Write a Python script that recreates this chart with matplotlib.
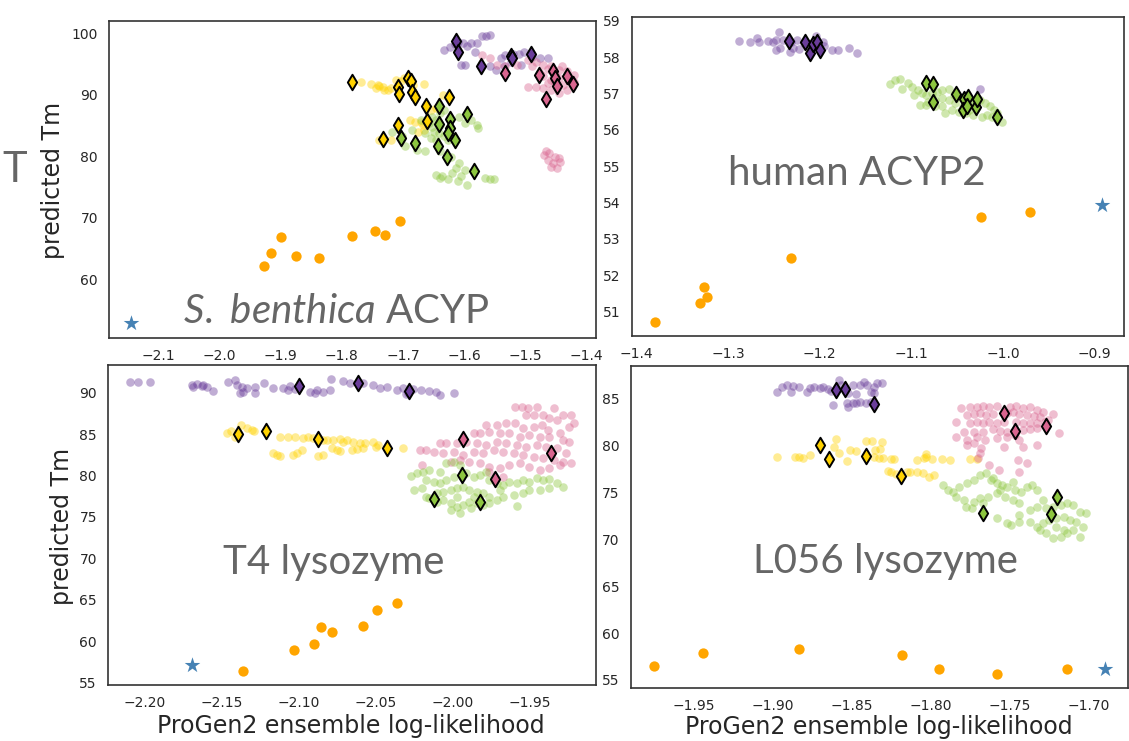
import numpy as np
import matplotlib
matplotlib.use("Agg")
import matplotlib.pyplot as plt
import seaborn as sns

sns.set_style("white")
plt.rcParams['font.family'] = ['DejaVu Sans']
plt.rcParams['mathtext.fontset'] = 'custom'
plt.rcParams['mathtext.it'] = 'Lato:italic'
plt.rcParams['mathtext.rm'] = 'Lato'

PURPLE = "#6a3d9a"
PINK = "#d9658f"
YELLOW = "#ffd200"
GREEN = "#8dc63f"
ORANGE = "#ffa500"
STAR = "#4682b4"

# ---------------- S. benthica ACYP ----------------
sb_purple = [(-1.633, 97.3), (-1.624, 97.8), (-1.611, 98.6), (-1.602, 98.5), (-1.589, 98.4),
             (-1.580, 98.4), (-1.583, 97.0), (-1.605, 94.9), (-1.599, 94.9), (-1.564, 99.5),
             (-1.558, 99.7), (-1.571, 99.6), (-1.558, 94.6), (-1.549, 94.0), (-1.533, 96.5),
             (-1.521, 96.7), (-1.511, 96.7), (-1.502, 96.9), (-1.508, 94.9), (-1.489, 96.2),
             (-1.477, 95.9), (-1.464, 95.9), (-1.536, 94.6), (-1.523, 95.4), (-1.615, 98.2),
             (-1.595, 98.0), (-1.540, 96.0)]
sb_purple_top = [(-1.614, 98.8), (-1.610, 96.9), (-1.572, 94.6), (-1.524, 96.3), (-1.522, 95.9),
                 (-1.491, 96.6)]
sb_pink = [(-1.571, 96.5), (-1.558, 95.9), (-1.546, 94.9), (-1.533, 94.6), (-1.514, 94.9),
           (-1.496, 95.7), (-1.483, 95.4), (-1.471, 94.9), (-1.458, 94.6), (-1.446, 94.0),
           (-1.433, 93.8), (-1.421, 93.2), (-1.471, 93.0), (-1.458, 92.4), (-1.446, 92.7),
           (-1.433, 93.0), (-1.483, 91.3), (-1.471, 91.1), (-1.458, 90.8), (-1.446, 90.2),
           (-1.433, 90.8), (-1.421, 92.1), (-1.489, 94.6), (-1.477, 93.5), (-1.452, 91.9),
           (-1.439, 91.6), (-1.427, 92.4), (-1.464, 91.9), (-1.496, 91.3), (-1.464, 94.2),
           (-1.452, 93.4), (-1.440, 94.6), (-1.470, 80.2), (-1.461, 80.5), (-1.452, 79.9),
           (-1.464, 79.4), (-1.455, 78.9), (-1.446, 79.7), (-1.443, 79.1), (-1.458, 78.3),
           (-1.449, 78.0), (-1.467, 80.8)]
sb_pink_top = [(-1.534, 93.5), (-1.478, 93.2), (-1.466, 89.3), (-1.455, 93.8), (-1.452, 92.7),
               (-1.449, 91.4), (-1.433, 93.0), (-1.422, 91.8)]
sb_yellow = [(-1.769, 92.0), (-1.752, 91.8), (-1.744, 91.1), (-1.739, 91.4), (-1.733, 91.2),
             (-1.725, 90.8), (-1.720, 91.1), (-1.711, 92.4), (-1.703, 92.3), (-1.698, 92.7),
             (-1.684, 91.6), (-1.665, 91.8), (-1.731, 90.8), (-1.741, 91.6), (-1.688, 85.9),
             (-1.681, 85.6), (-1.670, 85.6), (-1.676, 84.0), (-1.665, 84.3), (-1.720, 82.6),
             (-1.739, 82.6), (-1.668, 85.1), (-1.646, 87.8), (-1.654, 87.5), (-1.634, 90.0)]
sb_yellow_top = [(-1.784, 92.1), (-1.708, 91.3), (-1.706, 90.1), (-1.692, 92.7), (-1.687, 92.3),
                 (-1.686, 90.5), (-1.680, 89.6), (-1.625, 89.6), (-1.662, 88.2), (-1.661, 85.8),
                 (-1.709, 85.1), (-1.733, 82.8)]
sb_green = [(-1.652, 86.4), (-1.639, 87.0), (-1.658, 85.4), (-1.649, 84.0), (-1.633, 87.5),
            (-1.608, 86.4), (-1.599, 85.4), (-1.580, 85.1), (-1.577, 84.6), (-1.589, 85.9),
            (-1.718, 84.0), (-1.702, 83.2), (-1.696, 81.6), (-1.677, 81.0), (-1.664, 80.8),
            (-1.639, 80.8), (-1.621, 79.9), (-1.608, 78.9), (-1.614, 78.0), (-1.599, 77.8),
            (-1.646, 77.0), (-1.636, 76.7), (-1.627, 76.2), (-1.611, 75.9), (-1.596, 75.3),
            (-1.567, 76.4), (-1.558, 76.2), (-1.552, 76.2), (-1.664, 83.7), (-1.655, 82.9),
            (-1.646, 85.9), (-1.652, 84.8), (-1.639, 85.1), (-1.642, 83.7), (-1.633, 83.2),
            (-1.627, 82.6), (-1.646, 82.6), (-1.670, 85.9), (-1.686, 84.3), (-1.640, 76.4),
            (-1.620, 77.2), (-1.605, 76.8)]
sb_green_top = [(-1.641, 88.1), (-1.595, 86.9), (-1.642, 85.3), (-1.623, 86.0), (-1.623, 84.6),
                (-1.627, 83.8), (-1.615, 82.6), (-1.703, 83.0), (-1.680, 82.1), (-1.643, 81.7),
                (-1.629, 79.8), (-1.584, 77.6)]
sb_orange = [(-1.927, 62.2), (-1.915, 64.3), (-1.899, 66.9), (-1.874, 63.8), (-1.838, 63.5),
             (-1.783, 67.0), (-1.746, 67.8), (-1.729, 67.2), (-1.705, 69.4)]
sb_star = (-2.144, 52.8)

# ---------------- human ACYP2 ----------------
ha_purple = [(-1.288, 58.44), (-1.276, 58.41), (-1.269, 58.52), (-1.266, 58.40), (-1.257, 58.44),
             (-1.248, 58.47), (-1.245, 58.68), (-1.248, 58.19), (-1.244, 58.24), (-1.233, 58.15),
             (-1.232, 58.42), (-1.225, 58.47), (-1.223, 58.21), (-1.217, 58.38), (-1.204, 58.58),
             (-1.197, 58.42), (-1.195, 58.29), (-1.187, 58.20), (-1.180, 58.20), (-1.168, 58.26),
             (-1.159, 58.10), (-1.240, 58.47), (-1.251, 58.42), (-1.229, 58.24), (-1.025, 57.11)]
ha_purple_top = [(-1.234, 58.44), (-1.216, 58.42), (-1.211, 58.12), (-1.207, 58.35),
                 (-1.203, 58.40), (-1.200, 58.18)]
ha_green = [(-1.123, 57.26), (-1.118, 57.37), (-1.112, 57.39), (-1.110, 57.11), (-1.104, 57.28),
            (-1.099, 57.17), (-1.093, 57.10), (-1.089, 57.00), (-1.084, 56.96), (-1.078, 57.02),
            (-1.072, 57.05), (-1.067, 57.08), (-1.059, 57.11), (-1.054, 56.96), (-1.048, 56.91),
            (-1.042, 56.82), (-1.037, 56.77), (-1.031, 56.73), (-1.025, 56.82), (-1.020, 56.73),
            (-1.014, 56.66), (-1.010, 56.55), (-1.007, 56.45), (-1.001, 56.20), (-1.091, 56.68),
            (-1.084, 56.68), (-1.074, 56.64), (-1.067, 56.66), (-1.056, 56.55), (-1.048, 56.50),
            (-1.040, 56.45), (-1.033, 56.41), (-1.023, 56.36), (-1.018, 56.41), (-1.012, 56.36),
            (-1.059, 56.82), (-1.052, 56.73), (-1.074, 56.82), (-1.082, 56.77), (-1.067, 56.87),
            (-1.044, 56.64), (-1.029, 56.59), (-1.097, 56.96), (-1.063, 56.45), (-1.037, 56.55)]
ha_green_top = [(-1.084, 57.28), (-1.077, 57.26), (-1.076, 56.75), (-1.051, 56.98),
                (-1.043, 56.85), (-1.038, 56.91), (-1.044, 56.55), (-1.039, 56.66),
                (-1.030, 56.62), (-1.028, 56.85), (-1.007, 56.34)]
ha_orange = [(-1.380, 50.72), (-1.331, 51.25), (-1.326, 51.69), (-1.323, 51.39), (-1.231, 52.47),
             (-1.024, 53.59), (-0.971, 53.73)]
ha_star = (-0.892, 53.93)

# ---------------- T4 lysozyme ----------------
t4_purple = [(-2.2093, 91.33), (-2.2039, 91.33), (-2.1963, 91.33), (-2.1692, 90.93), (-2.1660, 91.05),
             (-2.1627, 90.81), (-2.1595, 90.72), (-2.1552, 90.24), (-2.1455, 91.25), (-2.1411, 91.53),
             (-2.1400, 90.93), (-2.1368, 90.72), (-2.1335, 90.53), (-2.1379, 90.00), (-2.1357, 90.12),
             (-2.1281, 90.65), (-2.1281, 90.00), (-2.1223, 91.13), (-2.1162, 90.53), (-2.1097, 90.53),
             (-2.1054, 90.81), (-2.1021, 90.41), (-2.0924, 90.12), (-2.0881, 90.33), (-2.0838, 90.12),
             (-2.0794, 90.33), (-2.0790, 91.62), (-2.0708, 91.45), (-2.0664, 91.13), (-2.0578, 91.21),
             (-2.0513, 90.93), (-2.0470, 90.53), (-2.0426, 90.72), (-2.0361, 90.33), (-2.0318, 90.53),
             (-2.0286, 89.93), (-2.1682, 90.72), (-2.1617, 90.93), (-2.1065, 90.33), (-2.0892, 90.00),
             (-2.0203, 90.37), (-2.0154, 90.21), (-2.0104, 90.08), (-2.0079, 89.68), (-1.9992, 90.00),
             (-2.0303, 89.88), (-2.0253, 90.49)]
t4_purple_top = [(-2.0993, 90.81), (-2.0614, 91.13), (-2.0278, 90.21)]
t4_yellow = [(-2.1465, 85.10), (-2.1439, 85.42), (-2.1411, 84.69), (-2.1374, 86.10), (-2.1335, 85.71),
             (-2.1303, 85.50), (-2.1288, 85.42), (-2.1119, 84.69), (-2.1065, 84.69), (-2.1021, 84.62),
             (-2.0968, 84.50), (-2.0935, 84.69), (-2.0903, 84.50), (-2.0816, 84.29), (-2.0773, 84.29),
             (-2.0729, 84.38), (-2.0686, 84.29), (-2.0643, 84.09), (-2.0599, 83.97), (-2.0567, 83.90),
             (-2.0513, 84.09), (-2.0481, 83.69), (-2.1162, 82.69), (-2.1140, 82.48), (-2.1119, 82.36),
             (-2.1032, 82.48), (-2.1010, 82.69), (-2.0978, 83.09), (-2.0870, 82.36), (-2.0838, 82.48),
             (-2.0783, 83.29), (-2.0751, 83.09), (-2.0729, 83.00), (-2.0653, 83.09), (-2.0621, 83.17),
             (-2.0578, 83.29), (-2.0495, 83.41), (-2.0318, 83.29), (-2.0838, 84.29), (-2.0708, 84.09)]
t4_yellow_top = [(-2.1390, 85.02), (-2.1210, 85.42), (-2.0870, 84.42), (-2.0426, 83.29)]
t4_pink = [(-1.959, 88.24), (-1.955, 88.32), (-1.951, 88.11), (-1.945, 88.24), (-1.934, 88.11),
           (-1.928, 87.31), (-1.923, 87.31), (-1.952, 87.31), (-1.947, 87.31), (-1.941, 87.31),
           (-1.937, 86.91), (-1.932, 86.71), (-1.978, 86.10), (-1.971, 86.10), (-1.965, 86.31),
           (-1.959, 86.31), (-1.954, 85.70), (-1.947, 85.90), (-1.942, 86.10), (-1.938, 85.50),
           (-1.930, 85.10), (-1.924, 85.90), (-1.921, 86.31), (-1.986, 85.10), (-1.982, 85.10),
           (-1.976, 85.30), (-1.969, 85.10), (-1.963, 85.10), (-1.956, 84.70), (-1.950, 84.90),
           (-1.943, 84.70), (-1.937, 84.70), (-1.928, 84.29), (-1.924, 84.09), (-2.008, 83.89),
           (-2.004, 83.89), (-1.997, 83.89), (-1.991, 84.09), (-1.984, 83.89), (-1.978, 83.69),
           (-1.971, 84.09), (-1.965, 83.89), (-1.958, 83.69), (-1.952, 83.49), (-1.945, 83.69),
           (-1.939, 83.49), (-1.932, 83.29), (-1.926, 82.69), (-2.021, 83.09), (-2.017, 83.09),
           (-2.012, 82.89), (-2.006, 82.69), (-1.999, 82.89), (-1.993, 82.49), (-1.986, 82.89),
           (-1.980, 82.69), (-1.973, 83.09), (-1.967, 82.89), (-1.960, 82.69), (-1.954, 82.49),
           (-1.947, 82.28), (-1.941, 82.08), (-1.934, 81.88), (-1.928, 81.68), (-1.923, 81.48),
           (-2.020, 81.28), (-2.001, 81.68), (-1.995, 81.88), (-1.989, 81.68), (-1.982, 81.48),
           (-1.976, 81.08), (-1.969, 80.88), (-1.963, 81.28), (-1.956, 81.48), (-1.950, 81.08),
           (-1.943, 80.68), (-1.937, 80.88), (-1.930, 81.28), (-1.967, 79.87), (-1.976, 80.48)]
t4_pink_top = [(-1.993, 84.37), (-1.936, 82.69), (-1.972, 79.55)]
t4_green = [(-2.027, 79.95), (-2.023, 80.27), (-2.019, 80.48), (-2.015, 80.68), (-2.008, 80.48),
            (-2.004, 81.48), (-1.999, 81.68), (-1.995, 81.28), (-2.025, 78.26), (-2.020, 78.46),
            (-2.017, 77.46), (-2.012, 79.27), (-2.008, 79.07), (-2.004, 79.47), (-1.999, 79.87),
            (-1.991, 80.27), (-1.986, 79.87), (-1.982, 80.07), (-1.978, 80.48), (-1.976, 79.47),
            (-1.971, 79.07), (-1.967, 78.87), (-1.963, 79.27), (-1.958, 79.07), (-1.954, 79.47),
            (-1.950, 79.27), (-1.945, 79.67), (-1.941, 79.47), (-1.937, 79.55), (-1.932, 79.07),
            (-1.928, 78.59), (-1.937, 78.46), (-1.943, 78.26), (-1.950, 78.26), (-1.954, 77.86),
            (-1.960, 77.66), (-1.967, 77.46), (-1.971, 77.06), (-1.976, 77.46), (-1.980, 77.86),
            (-1.984, 78.06), (-1.989, 78.26), (-1.993, 78.66), (-1.997, 78.46), (-2.001, 78.26),
            (-2.006, 78.06), (-2.010, 77.86), (-2.015, 77.26), (-2.010, 76.86), (-2.006, 77.06),
            (-2.001, 76.66), (-1.997, 76.25), (-1.993, 76.45), (-1.989, 76.86), (-1.984, 76.66),
            (-1.980, 76.45), (-1.976, 76.66), (-2.001, 75.85), (-1.995, 75.45), (-1.988, 76.05),
            (-1.958, 76.33), (-2.017, 79.47), (-1.997, 77.46), (-1.986, 77.46), (-1.969, 78.26)]
t4_green_top = [(-1.994, 80.07), (-2.012, 77.18), (-1.982, 76.86)]
t4_orange = [(-2.136, 56.42), (-2.103, 58.91), (-2.090, 59.68), (-2.085, 61.76), (-2.078, 61.15),
             (-2.058, 61.88), (-2.049, 63.79), (-2.036, 64.65)]
t4_star = (-2.169, 57.12)

# ---------------- L056 lysozyme ----------------
l0_purple = [(-1.897, 85.79), (-1.894, 86.32), (-1.891, 86.50), (-1.888, 85.79), (-1.887, 86.39),
             (-1.883, 86.25), (-1.878, 85.79), (-1.876, 86.14), (-1.874, 86.25), (-1.870, 86.14),
             (-1.868, 86.25), (-1.865, 86.04), (-1.863, 85.89), (-1.858, 87.03), (-1.857, 86.50),
             (-1.852, 85.61), (-1.849, 86.50), (-1.847, 85.54), (-1.845, 86.50), (-1.842, 86.85),
             (-1.840, 86.50), (-1.836, 86.32), (-1.834, 86.68), (-1.831, 86.68), (-1.836, 85.61),
             (-1.838, 85.79), (-1.862, 84.36), (-1.853, 84.54), (-1.849, 84.61), (-1.845, 84.72),
             (-1.841, 84.54), (-1.838, 84.72), (-1.852, 84.19), (-1.847, 84.54)]
l0_purple_top = [(-1.860, 85.96), (-1.854, 86.10), (-1.836, 84.47)]
l0_yellow = [(-1.897, 78.78), (-1.886, 78.85), (-1.883, 78.78), (-1.881, 78.74), (-1.876, 79.03),
             (-1.860, 80.70), (-1.861, 79.84), (-1.858, 79.27), (-1.853, 78.42), (-1.851, 79.56),
             (-1.847, 79.42), (-1.841, 80.56), (-1.837, 80.56), (-1.835, 79.56), (-1.832, 79.63),
             (-1.831, 80.45), (-1.836, 78.78), (-1.833, 78.67), (-1.830, 78.67), (-1.825, 78.56),
             (-1.823, 78.56), (-1.827, 77.35), (-1.825, 77.25), (-1.822, 76.99), (-1.815, 77.25),
             (-1.809, 78.49), (-1.809, 77.17), (-1.805, 77.07), (-1.803, 79.13), (-1.803, 78.78),
             (-1.804, 78.67), (-1.799, 78.56), (-1.793, 78.56), (-1.788, 78.49), (-1.798, 76.89),
             (-1.801, 76.71), (-1.775, 78.56), (-1.771, 78.56), (-1.813, 77.24)]
l0_yellow_top = [(-1.870, 80.09), (-1.864, 78.56), (-1.841, 78.95), (-1.819, 76.78)]
l0_pink = [(-1.781, 84.00), (-1.775, 84.18), (-1.771, 84.11), (-1.767, 84.25), (-1.763, 84.18),
           (-1.758, 84.25), (-1.750, 84.18), (-1.746, 84.25), (-1.742, 84.00), (-1.737, 84.18),
           (-1.733, 83.82), (-1.729, 83.65), (-1.723, 83.40), (-1.777, 83.29), (-1.773, 83.40),
           (-1.769, 83.47), (-1.765, 83.29), (-1.761, 83.40), (-1.752, 83.47), (-1.748, 83.65),
           (-1.744, 83.40), (-1.739, 83.29), (-1.735, 83.18), (-1.731, 83.11), (-1.726, 82.76),
           (-1.784, 82.58), (-1.775, 82.40), (-1.771, 82.58), (-1.767, 82.40), (-1.763, 82.58),
           (-1.758, 82.40), (-1.754, 82.58), (-1.746, 82.58), (-1.742, 82.40), (-1.737, 82.47),
           (-1.733, 82.40), (-1.728, 82.58), (-1.719, 81.40), (-1.779, 81.51), (-1.773, 81.51),
           (-1.767, 81.51), (-1.761, 81.76), (-1.756, 81.62), (-1.752, 81.51), (-1.742, 81.69),
           (-1.737, 81.76), (-1.733, 81.87), (-1.784, 80.91), (-1.777, 80.62), (-1.771, 80.98),
           (-1.766, 80.62), (-1.758, 80.80), (-1.752, 80.98), (-1.747, 81.16), (-1.744, 80.62),
           (-1.777, 80.09), (-1.773, 80.27), (-1.768, 79.73), (-1.769, 79.20), (-1.770, 78.66),
           (-1.754, 79.91), (-1.742, 79.84), (-1.733, 80.09), (-1.745, 78.49), (-1.739, 78.13),
           (-1.757, 77.42), (-1.763, 77.95), (-1.744, 77.24)]
l0_pink_top = [(-1.754, 83.54), (-1.747, 81.62), (-1.727, 82.12)]
l0_green = [(-1.792, 75.82), (-1.789, 75.28), (-1.786, 75.11), (-1.782, 75.64), (-1.777, 76.00),
            (-1.773, 76.35), (-1.769, 76.89), (-1.765, 77.06), (-1.761, 76.53), (-1.758, 76.00),
            (-1.755, 75.82), (-1.752, 75.64), (-1.748, 76.17), (-1.747, 75.28), (-1.743, 75.11),
            (-1.739, 75.64), (-1.736, 75.82), (-1.733, 75.28), (-1.729, 74.22), (-1.784, 74.57),
            (-1.779, 74.22), (-1.773, 74.04), (-1.769, 74.39), (-1.764, 74.57), (-1.758, 74.93),
            (-1.753, 74.57), (-1.748, 74.22), (-1.744, 73.86), (-1.778, 73.50), (-1.774, 73.33),
            (-1.758, 72.26), (-1.752, 71.73), (-1.749, 71.55), (-1.744, 72.61), (-1.737, 73.15),
            (-1.733, 73.50), (-1.727, 73.33), (-1.723, 73.50), (-1.718, 73.68), (-1.714, 73.86),
            (-1.710, 73.68), (-1.706, 72.97), (-1.702, 72.79), (-1.737, 71.90), (-1.733, 71.37),
            (-1.729, 71.73), (-1.725, 72.08), (-1.721, 72.26), (-1.716, 72.44), (-1.712, 72.08),
            (-1.708, 71.90), (-1.704, 71.37), (-1.727, 70.66), (-1.723, 70.12), (-1.718, 70.30),
            (-1.714, 70.66), (-1.710, 71.01), (-1.706, 70.30), (-1.721, 71.37), (-1.731, 71.01),
            (-1.744, 71.90), (-1.762, 76.35), (-1.756, 75.28), (-1.767, 73.86), (-1.716, 71.01)]
l0_green_top = [(-1.767, 72.79), (-1.720, 74.57), (-1.724, 72.69)]
l0_orange = [(-1.975, 56.49), (-1.944, 57.85), (-1.883, 58.27), (-1.818, 57.63), (-1.795, 56.14),
             (-1.758, 55.68), (-1.714, 56.17)]
l0_star = (-1.690, 56.17)

W, H = 1129, 741


def rect(left, right, top, bottom):
    return [left / W, (H - bottom) / H, (right - left) / W, (bottom - top) / H]


def draw_panel(ax, clouds, tops, orange, star, xlim, ylim, xticks, yticks, xfmt):
    for pts, col in clouds:
        p = np.array(pts)
        ax.scatter(p[:, 0], p[:, 1], s=38, color=col, alpha=0.42, linewidths=0, zorder=2)
    for pts, col in tops:
        p = np.array(pts)
        ax.scatter(p[:, 0], p[:, 1], s=62, marker="d", color=col, edgecolors="black",
                   linewidths=1.4, zorder=4)
    p = np.array(orange)
    ax.scatter(p[:, 0], p[:, 1], s=55, color=ORANGE, linewidths=0, zorder=3)
    ax.scatter([star[0]], [star[1]], s=140, marker="*", color=STAR, linewidths=0, zorder=3)
    ax.set_xlim(*xlim)
    ax.set_ylim(*ylim)
    ax.set_xticks(xticks)
    ax.set_yticks(yticks)
    ax.set_xticklabels([xfmt.format(v).replace("-", "\u2212") for v in xticks])
    ax.tick_params(length=0, pad=8, labelsize=10, labelcolor=".15")
    for s in ax.spines.values():
        s.set_color(".2")
        s.set_linewidth(1.2)


fig = plt.figure(figsize=(W / 100, H / 100), dpi=100)
title_kw = dict(family="Lato", fontsize=29, color="#666666", ha="center", va="baseline")

ax1 = fig.add_axes(rect(109, 596, 21, 338))
draw_panel(ax1,
           [(sb_purple, PURPLE), (sb_pink, PINK), (sb_yellow, YELLOW), (sb_green, GREEN)],
           [(sb_purple_top, PURPLE), (sb_pink_top, PINK), (sb_yellow_top, YELLOW), (sb_green_top, GREEN)],
           sb_orange, sb_star, (-2.18, -1.385), (50.4, 102.0),
           [-2.1, -2.0, -1.9, -1.8, -1.7, -1.6, -1.5, -1.4], [60, 70, 80, 90, 100], "{:.1f}")
ax1.text(0.468, 0.047, r"$\it{S.\ benthica}$ ACYP", transform=ax1.transAxes, **title_kw)

ax2 = fig.add_axes(rect(632, 1124, 17, 336))
draw_panel(ax2,
           [(ha_purple, PURPLE), (ha_green, GREEN)],
           [(ha_purple_top, PURPLE), (ha_green_top, GREEN)],
           ha_orange, ha_star, (-1.405, -0.868), (50.33, 59.1),
           [-1.4, -1.3, -1.2, -1.1, -1.0, -0.9], [51, 52, 53, 54, 55, 56, 57, 58, 59], "{:.1f}")
ax2.text(0.457, 0.473, "human ACYP2", transform=ax2.transAxes, **title_kw)

ax3 = fig.add_axes(rect(108, 595.5, 365, 685))
draw_panel(ax3,
           [(t4_purple, PURPLE), (t4_yellow, YELLOW), (t4_pink, PINK), (t4_green, GREEN)],
           [(t4_purple_top, PURPLE), (t4_yellow_top, YELLOW), (t4_pink_top, PINK), (t4_green_top, GREEN)],
           t4_orange, t4_star, (-2.2236, -1.907), (54.72, 93.34),
           [-2.20, -2.15, -2.10, -2.05, -2.00, -1.95], [55, 60, 65, 70, 75, 80, 85, 90], "{:.2f}")
ax3.text(0.462, 0.347, "T4 lysozyme", transform=ax3.transAxes, **title_kw)

ax4 = fig.add_axes(rect(630.6, 1127.7, 365.7, 688.3))
draw_panel(ax4,
           [(l0_purple, PURPLE), (l0_yellow, YELLOW), (l0_pink, PINK), (l0_green, GREEN)],
           [(l0_purple_top, PURPLE), (l0_yellow_top, YELLOW), (l0_pink_top, PINK), (l0_green_top, GREEN)],
           l0_orange, l0_star, (-1.9896, -1.6756), (54.11, 88.55),
           [-1.95, -1.90, -1.85, -1.80, -1.75, -1.70], [55, 60, 65, 70, 75, 80, 85], "{:.2f}")
ax4.text(0.512, 0.358, "L056 lysozyme", transform=ax4.transAxes, **title_kw)

lab_kw = dict(fontsize=17, color=".15", ha="center", va="center")
fig.text(53 / W, 1 - 180 / H, "predicted Tm", rotation=90, **lab_kw)
fig.text(62 / W, 1 - 526 / H, "predicted Tm", rotation=90, **lab_kw)
fig.text(351 / W, 1 - 726 / H, "ProGen2 ensemble log-likelihood", **lab_kw)
fig.text(879 / W, 1 - 727 / H, "ProGen2 ensemble log-likelihood", **lab_kw)
fig.text(2 / W, 1 - 182 / H, "T", family="Lato", fontsize=30, color="#666666",
         ha="left", va="baseline")

fig.savefig("out.png", dpi=100)
plt.close(fig)
